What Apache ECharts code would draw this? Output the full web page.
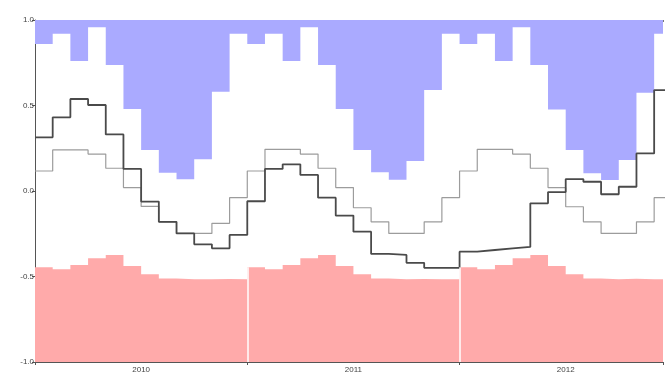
<!DOCTYPE html>
<html>
<head>
<meta charset="utf-8">
<script src="https://cdn.jsdelivr.net/npm/echarts@6/dist/echarts.min.js"></script>
<style>html,body{margin:0;padding:0;background:#fff;overflow:hidden}#c{width:666px;height:376px}</style>
</head>
<body>
<div id="c"></div>
<script>
// Monthly values, Jan 2010 .. Dec 2012
const yearLabels = ['2010', '2011', '2012'];
const yTicks = [-1.0, -0.5, 0.0, 0.5, 1.0];
// visible x extent (months from Jan 2010); the picture is cut off shortly before the end of 2012
const xVisibleMax = 35.5;

const upperBand = [
  0.86, 0.92, 0.76, 0.957, 0.737, 0.48, 0.24, 0.107, 0.068, 0.185, 0.58, 0.92,
  0.86, 0.92, 0.76, 0.957, 0.737, 0.48, 0.24, 0.11, 0.066, 0.175, 0.59, 0.92,
  0.86, 0.92, 0.76, 0.957, 0.737, 0.476, 0.24, 0.104, 0.064, 0.181, 0.575, 0.92
];
const lowerBand = [
  -0.446, -0.458, -0.433, -0.394, -0.374, -0.439, -0.487, -0.511, -0.516, -0.516, -0.514, -0.516,
  -0.446, -0.458, -0.433, -0.394, -0.374, -0.439, -0.487, -0.511, -0.516, -0.514, -0.516, -0.516,
  -0.446, -0.458, -0.433, -0.394, -0.374, -0.439, -0.487, -0.511, -0.516, -0.513, -0.516, -0.516
];
const climatology = [
  0.117, 0.24, 0.24, 0.216, 0.133, 0.02, -0.09, -0.18, -0.248, -0.248, -0.189, -0.039,
  0.117, 0.244, 0.244, 0.216, 0.133, 0.02, -0.098, -0.18, -0.248, -0.248, -0.18, -0.039,
  0.117, 0.244, 0.244, 0.216, 0.133, 0.02, -0.092, -0.18, -0.248, -0.248, -0.18, -0.039
];
const observed = [
  0.314, 0.431, 0.538, 0.503, 0.331, 0.129, -0.062, -0.18, -0.248, -0.312, -0.335, -0.257,
  -0.06, 0.129, 0.156, 0.094, -0.039, -0.144, -0.238, -0.368, -0.374, -0.42, -0.449, -0.449,
  -0.355, -0.345, -0.335, -0.327, -0.072, -0.006, 0.07, 0.054, -0.019, 0.025, 0.22, 0.59
];

function stepData(arr) {
  const d = arr.map((v, i) => [i, v]);
  d.push([arr.length, arr[arr.length - 1]]);
  return d;
}
// white separators at year boundaries through the lower band
const sepLines = [];
for (let y = 1; y < yearLabels.length; y++) {
  const m = y * 12;
  sepLines.push([{ coord: [m, -1] }, { coord: [m, Math.max(lowerBand[m - 1], lowerBand[m])] }]);
}

const chart = echarts.init(document.getElementById('c'), null, { renderer: 'canvas' });
const labelFont = { fontFamily: 'Liberation Sans, Arial, sans-serif', fontSize: 8, color: '#444' };
chart.setOption({
  animation: false,
  backgroundColor: '#fff',
  grid: { left: 35, right: 0, top: 20, bottom: 14, containLabel: false },
  xAxis: [
    {
      type: 'value', min: 0, max: xVisibleMax, interval: 12, position: 'bottom',
      axisLine: { show: true, onZero: false, lineStyle: { color: '#555', width: 1 } },
      axisTick: { show: true, length: 3, lineStyle: { color: '#555' } },
      axisLabel: { show: false }, splitLine: { show: false }
    },
    {
      type: 'value', min: 0, max: xVisibleMax, interval: 6, position: 'bottom',
      axisLine: { show: false, onZero: false }, axisTick: { show: false }, splitLine: { show: false },
      axisLabel: Object.assign({
        show: true, margin: 4,
        formatter: v => (v % 12 === 6 ? yearLabels[(v - 6) / 12] : '')
      }, labelFont)
    },
    {
      type: 'value', min: 0, max: xVisibleMax, interval: 1, position: 'top',
      axisLine: { show: true, onZero: false, lineStyle: { color: '#555', width: 1 } },
      axisTick: { show: true, inside: true, length: 2, lineStyle: { color: '#777' } },
      axisLabel: { show: false }, splitLine: { show: false }
    }
  ],
  yAxis: {
    type: 'value', min: yTicks[0], max: yTicks[yTicks.length - 1], interval: 0.5,
    axisLine: { show: true, onZero: false, lineStyle: { color: '#555', width: 1 } },
    axisTick: { show: true, length: 3, lineStyle: { color: '#555' } },
    splitLine: { show: false },
    axisLabel: Object.assign({ margin: 1, formatter: v => v.toFixed(1) }, labelFont)
  },
  series: [
    {
      type: 'line', step: 'end', data: stepData(upperBand), symbol: 'none', clip: true,
      lineStyle: { width: 0 }, areaStyle: { color: '#aaaaff', opacity: 1, origin: 'end' }, z: 1
    },
    {
      type: 'line', step: 'end', data: stepData(lowerBand), symbol: 'none', clip: true,
      lineStyle: { width: 0 }, areaStyle: { color: '#ffaaaa', opacity: 1, origin: 'start' }, z: 1,
      markLine: {
        silent: true, symbol: 'none', label: { show: false },
        lineStyle: { color: '#fff', width: 1.5, type: 'solid' },
        data: sepLines
      }
    },
    {
      type: 'line', step: 'end', data: stepData(climatology), symbol: 'none', clip: true,
      lineStyle: { color: '#9c9c9c', width: 1.2 }, z: 3
    },
    {
      type: 'line', step: 'end', data: stepData(observed), symbol: 'none', clip: true,
      lineStyle: { color: '#4a4a4a', width: 1.8 }, z: 4
    }
  ]
});
</script>
</body>
</html>
